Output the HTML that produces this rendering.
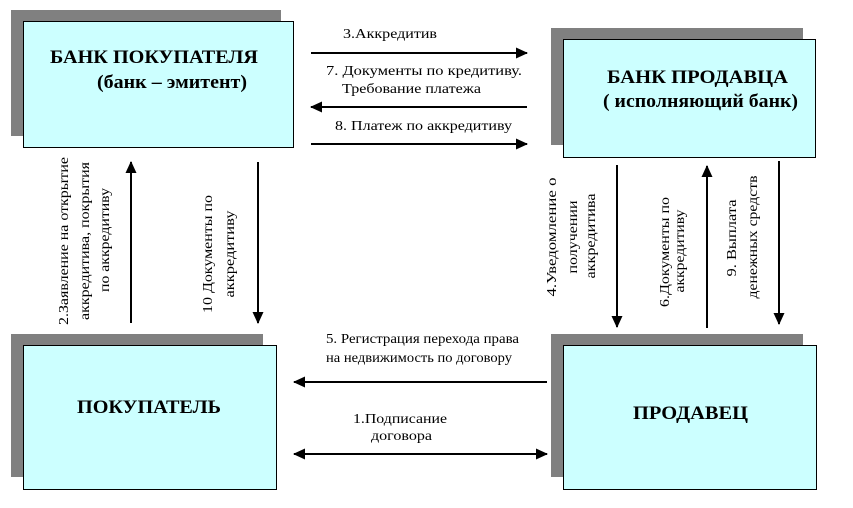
<!DOCTYPE html>
<html><head><meta charset="utf-8"><style>
html,body{margin:0;padding:0;background:#fff;}
svg{display:block;}
text{font-family:"Liberation Serif","DejaVu Serif",serif;fill:#000;}
.t{font-size:14px;}
.b{font-size:19px;font-weight:bold;}
</style></head><body>
<svg width="853" height="508" viewBox="0 0 853 508" xmlns="http://www.w3.org/2000/svg">
<defs>
<marker id="ah" markerWidth="12" markerHeight="12" refX="11" refY="6" orient="auto" markerUnits="userSpaceOnUse">
<path d="M0,0.5 L12,6 L0,11.5 z" fill="#000"/>
</marker>
<marker id="as" markerWidth="12" markerHeight="12" refX="1" refY="6" orient="auto" markerUnits="userSpaceOnUse">
<path d="M12,0.5 L0,6 L12,11.5 z" fill="#000"/>
</marker>
</defs>
<rect x="11" y="10" width="270" height="126" fill="#808080"/>
<rect x="23.5" y="21.5" width="270" height="126" fill="#ccffff" stroke="#000" stroke-width="1"/>
<rect x="551" y="28" width="252" height="117" fill="#808080"/>
<rect x="563.5" y="39.5" width="252" height="118" fill="#ccffff" stroke="#000" stroke-width="1"/>
<rect x="11" y="334" width="252" height="143" fill="#808080"/>
<rect x="23.5" y="345.5" width="253" height="144" fill="#ccffff" stroke="#000" stroke-width="1"/>
<rect x="551" y="334" width="252" height="143" fill="#808080"/>
<rect x="563.5" y="345.5" width="253" height="144" fill="#ccffff" stroke="#000" stroke-width="1"/>

<text class="b" x="50" y="63" textLength="208" lengthAdjust="spacingAndGlyphs">БАНК ПОКУПАТЕЛЯ</text>
<text class="b" x="97" y="88" textLength="150" lengthAdjust="spacingAndGlyphs">(банк – эмитент)</text>
<text class="b" x="607" y="83" textLength="181" lengthAdjust="spacingAndGlyphs">БАНК  ПРОДАВЦА</text>
<text class="b" x="603" y="107" textLength="195" lengthAdjust="spacingAndGlyphs">( исполняющий банк)</text>
<text class="b" x="77" y="413" textLength="144" lengthAdjust="spacingAndGlyphs">ПОКУПАТЕЛЬ</text>
<text class="b" x="633" y="419" textLength="115" lengthAdjust="spacingAndGlyphs">ПРОДАВЕЦ</text>

<g stroke="#000" stroke-width="2" fill="none">
<line x1="311" y1="53" x2="527" y2="53" marker-end="url(#ah)"/>
<line x1="527" y1="107" x2="311" y2="107" marker-end="url(#ah)"/>
<line x1="311" y1="144" x2="527" y2="144" marker-end="url(#ah)"/>
<line x1="547" y1="382" x2="294" y2="382" marker-end="url(#ah)"/>
<line x1="294" y1="454" x2="547" y2="454" marker-start="url(#as)" marker-end="url(#ah)"/>
<line x1="131" y1="323" x2="131" y2="162" marker-end="url(#ah)"/>
<line x1="258" y1="162" x2="258" y2="323" marker-end="url(#ah)"/>
<line x1="617" y1="165" x2="617" y2="327" marker-end="url(#ah)"/>
<line x1="707" y1="328" x2="707" y2="166" marker-end="url(#ah)"/>
<line x1="779" y1="161" x2="779" y2="324" marker-end="url(#ah)"/>
</g>

<text class="t" x="343" y="38" textLength="94" lengthAdjust="spacingAndGlyphs">3.Аккредитив</text>
<text class="t" x="326" y="75" textLength="196" lengthAdjust="spacingAndGlyphs">7. Документы по  кредитиву.</text>
<text class="t" x="342" y="93" textLength="139" lengthAdjust="spacingAndGlyphs">Требование платежа</text>
<text class="t" x="335" y="130" textLength="177" lengthAdjust="spacingAndGlyphs">8. Платеж по аккредитиву</text>
<text class="t" x="326" y="343" textLength="193" lengthAdjust="spacingAndGlyphs">5. Регистрация перехода права</text>
<text class="t" x="326" y="362" textLength="186" lengthAdjust="spacingAndGlyphs">на недвижимость по договору</text>
<text class="t" x="353" y="423" textLength="94" lengthAdjust="spacingAndGlyphs">1.Подписание</text>
<text class="t" x="371" y="440" textLength="61" lengthAdjust="spacingAndGlyphs">договора</text>

<g class="t" text-anchor="middle">
<text transform="translate(68,241) rotate(-90)" textLength="168" lengthAdjust="spacingAndGlyphs">2.Заявление на открытие</text>
<text transform="translate(89,241) rotate(-90)" textLength="158" lengthAdjust="spacingAndGlyphs">аккредитива, покрытия</text>
<text transform="translate(109,240) rotate(-90)" textLength="104" lengthAdjust="spacingAndGlyphs">по аккредитиву</text>
<text transform="translate(212,254) rotate(-90)" textLength="118" lengthAdjust="spacingAndGlyphs">10 Документы по</text>
<text transform="translate(234,254) rotate(-90)" textLength="87" lengthAdjust="spacingAndGlyphs">аккредитиву</text>
<text transform="translate(556,237) rotate(-90)" textLength="119" lengthAdjust="spacingAndGlyphs">4.Уведомление о</text>
<text transform="translate(577,237) rotate(-90)" textLength="73" lengthAdjust="spacingAndGlyphs">получении</text>
<text transform="translate(595,236) rotate(-90)" textLength="85" lengthAdjust="spacingAndGlyphs">аккредитива</text>
<text transform="translate(669,252) rotate(-90)" textLength="110" lengthAdjust="spacingAndGlyphs">6.Документы по</text>
<text transform="translate(684,251) rotate(-90)" textLength="83" lengthAdjust="spacingAndGlyphs">аккредитиву</text>
<text transform="translate(736,238) rotate(-90)" textLength="77" lengthAdjust="spacingAndGlyphs">9. Выплата</text>
<text transform="translate(757,237) rotate(-90)" textLength="123" lengthAdjust="spacingAndGlyphs">денежных средств</text>
</g>
</svg>
</body></html>
